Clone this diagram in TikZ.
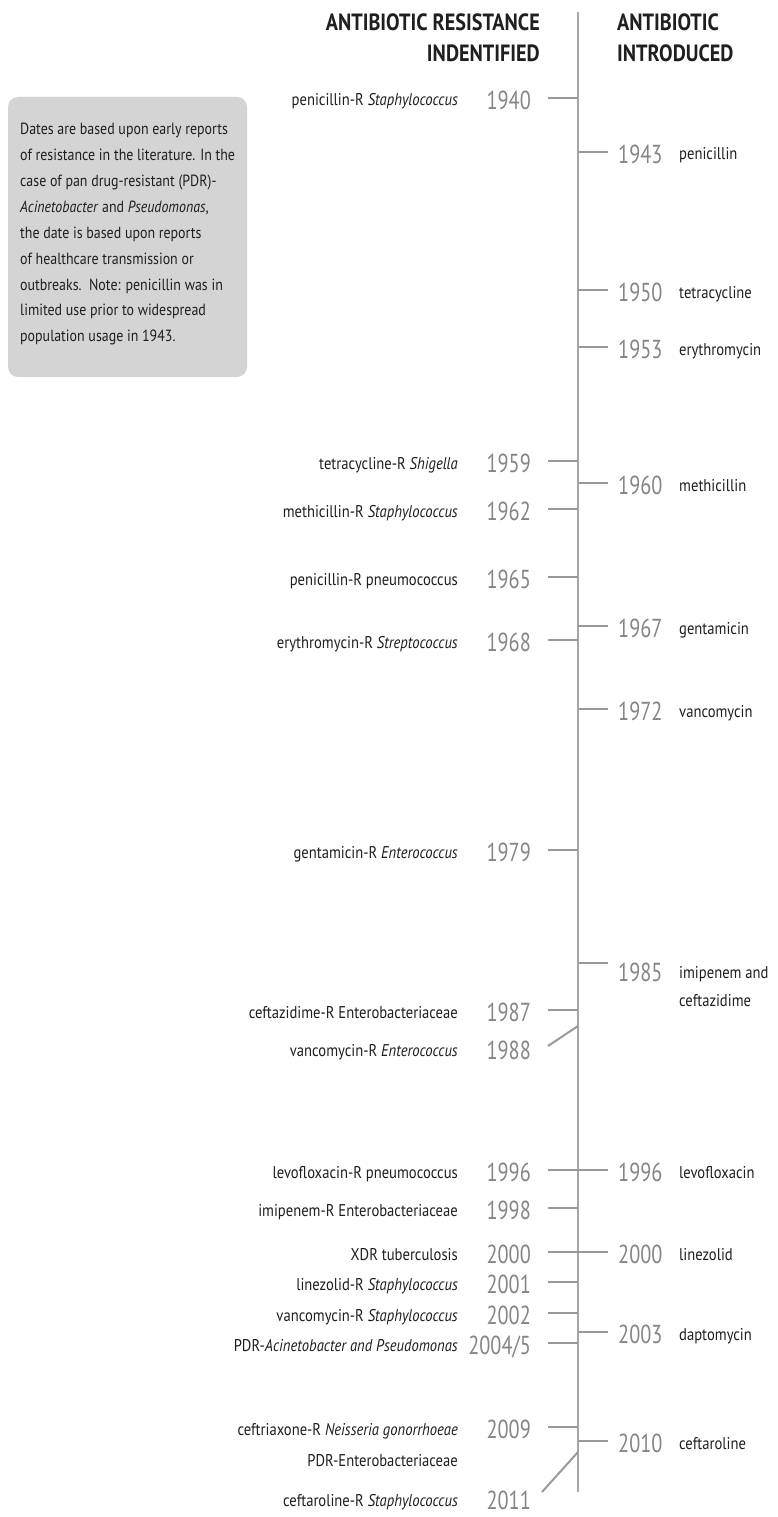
\documentclass[tikz,border=0pt]{standalone}
\usepackage{fontspec}
\setmainfont{PT Sans}[FakeStretch=0.86]
\newfontfamily\yearfont{PT Sans}[FakeStretch=0.78]
\begin{document}
\begin{tikzpicture}[x=1pt,y=-1pt,
  axisline/.style={draw=black!35,line width=2.4pt},
  tickline/.style={draw=black!40,line width=2pt},
  yearL/.style={anchor=east,inner sep=0pt,text height=19pt,text depth=0pt,text=black!48,font=\yearfont\fontsize{26}{30}\selectfont},
  yearR/.style={anchor=west,inner sep=0pt,text height=19pt,text depth=0pt,text=black!48,font=\yearfont\fontsize{26}{30}\selectfont},
  labL/.style={anchor=east,inner sep=0pt,text height=12pt,text depth=0pt,text=black!88,font=\fontsize{17}{20}\selectfont},
  labR/.style={anchor=west,inner sep=0pt,text height=12pt,text depth=0pt,text=black!88,font=\fontsize{17}{20}\selectfont},
  head/.style={inner sep=0pt,font=\bfseries\fontsize{23.5}{31}\selectfont,text=black!88},
  notebox/.style={rounded corners=10pt,fill=black!17},
  notetext/.style={anchor=north west,inner sep=0pt,align=left,text=black!88,font=\fontsize{16.2}{25.9}\selectfont}
]
\useasboundingbox (0,0) rectangle (778,1517);
\fill[white] (0,0) rectangle (778,1517);

% headers
\node[head,anchor=base east,align=right] (hL) at (540,62) {ANTIBIOTIC RESISTANCE\\INDENTIFIED};
\node[head,anchor=base west,align=left] (hR) at (617,62) {ANTIBIOTIC\\INTRODUCED};

% note box
\path[notebox] (8,97) rectangle (247,377);
\node[notetext] (note) at (20,123) {Dates are based upon early reports\\
of resistance in the literature. In the\\
case of pan drug-resistant (PDR)-\\
\textit{Acinetobacter} and \textit{Pseudomonas},\\
the date is based upon reports\\
of healthcare transmission or\\
outbreaks.\ \ Note: penicillin was in\\
limited use prior to widespread\\
population usage in 1943.};

% axis
\coordinate (axtop) at (578,12);
\coordinate (axbot) at (578,1492);
\draw[axisline] (axtop) -- (axbot);

% left entries
\foreach \id/\yt/\y/\lab in {
 a/1940/98/{penicillin-R \textit{Staphylococcus}},
 b/1959/461/{tetracycline-R \textit{Shigella}},
 c/1962/509/{methicillin-R \textit{Staphylococcus}},
 d/1965/577/{penicillin-R pneumococcus},
 e/1968/640/{erythromycin-R \textit{Streptococcus}},
 f/1979/850/{gentamicin-R \textit{Enterococcus}},
 g/1987/1010/{ceftazidime-R Enterobacteriaceae},
 i/1996/1170/{levofloxacin-R pneumococcus},
 j/1998/1208/{imipenem-R Enterobacteriaceae},
 k/2000/1252/{XDR tuberculosis},
 l/2001/1282/{linezolid-R \textit{Staphylococcus}},
 m/2002/1313/{vancomycin-R \textit{Staphylococcus}},
 n/{2004/5}/1343/{PDR-\textit{Acinetobacter and Pseudomonas}},
 o/2009/1427/{ceftriaxone-R \textit{Neisseria gonorrhoeae}}}{
  \coordinate (Lax\id) at (578,\y);
  \coordinate (Ltk\id) at (548,\y);
  \draw[tickline] (Ltk\id) -- (Lax\id);
  \node[yearL] (Ly\id) at (531,\y+2) {\yt};
  \node[labL] (Ll\id) at (458,\y+2) {\lab};
}

% 1988 with slanted connector
\coordinate (Laxh) at (578,1026);
\coordinate (Ltkh) at (548,1046);
\draw[tickline] (Ltkh) -- (Laxh);
\node[yearL] (Lyh) at (531,1050) {1988};
\node[labL] (Llh) at (458,1050) {vancomycin-R \textit{Enterococcus}};

% PDR-Enterobacteriaceae (2009)
\node[labL] (Llp) at (458,1460) {PDR-Enterobacteriaceae};

% 2011 with slanted connector
\coordinate (Laxq) at (578,1452);
\coordinate (Ltkq) at (542,1492);
\draw[tickline] (Ltkq) -- (Laxq);
\node[yearL] (Lyq) at (531,1500) {2011};
\node[labL] (Llq) at (458,1500) {ceftaroline-R \textit{Staphylococcus}};

% right entries
\foreach \id/\yt/\y/\lab in {
 a/1943/152/penicillin,
 b/1950/290/tetracycline,
 c/1953/347/erythromycin,
 d/1960/483/methicillin,
 e/1967/626/gentamicin,
 f/1972/709/vancomycin,
 h/1996/1170/levofloxacin,
 i/2000/1252/linezolid,
 j/2003/1332/daptomycin,
 k/2010/1441/ceftaroline}{
  \coordinate (Rax\id) at (578,\y);
  \coordinate (Rtk\id) at (608,\y);
  \draw[tickline] (Rax\id) -- (Rtk\id);
  \node[yearR] (Ry\id) at (618,\y+2) {\yt};
  \node[labR] (Rl\id) at (679,\y+2) {\lab};
}

% 1985 two-line label
\coordinate (Raxg) at (578,963);
\coordinate (Rtkg) at (608,963);
\draw[tickline] (Raxg) -- (Rtkg);
\node[yearR] (Ryg) at (618,972) {1985};
\node[labR] (Rlg) at (679,972) {imipenem and};
\node[labR] (Rlg2) at (679,1000) {ceftazidime};
\end{tikzpicture}
\end{document}
